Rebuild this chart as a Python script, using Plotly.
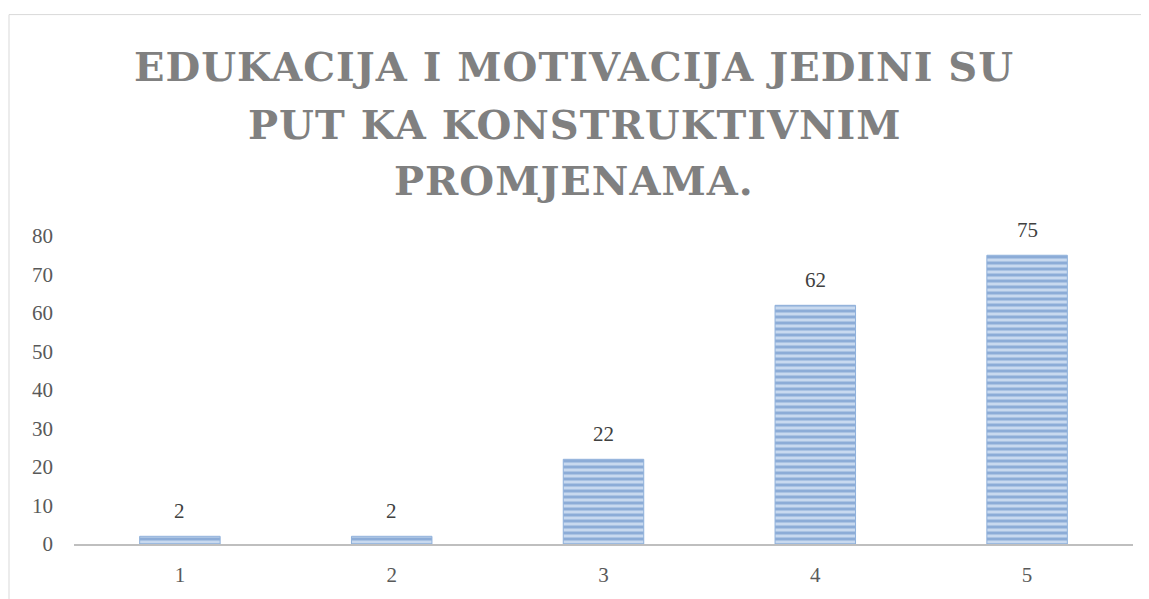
import plotly.graph_objects as go

categories = ["1", "2", "3", "4", "5"]
values = [2, 2, 22, 62, 75]
y_ticks = [0, 10, 20, 30, 40, 50, 60, 70, 80]
title_lines = ["EDUKACIJA I MOTIVACIJA JEDINI SU", "PUT KA KONSTRUKTIVNIM", "PROMJENAMA."]

OFF = 8  # page body offset
W, H = 1149 - OFF, 599 - OFF
L, R, T, B = 74 - OFF, W - (1133 - OFF), 236 - OFF, H - (549 - OFF)
pw = W - L - R
ph = H - T - B


def py(screen_y):
    return (H - B - (screen_y - OFF)) / ph


def px(screen_x):
    return (screen_x - OFF - L) / pw


serif = "Liberation Serif, DejaVu Serif, serif"

fig = go.Figure()
fig.add_trace(go.Bar(
    x=categories, y=values,
    width=0.38,
    marker=dict(
        color="#B7CDEA",
        line=dict(color="#8FB0DA", width=1),
        pattern=dict(shape="-", fgcolor="#4F7FC0", bgcolor="#C8D9EF", size=6, solidity=0.5),
    ),
    hoverinfo="skip",
))

for i, v in enumerate(values):
    fig.add_annotation(x=i, y=v, xref="x", yref="y", text=str(v), showarrow=False,
                       yanchor="bottom", yshift=11,
                       font=dict(family=serif, size=21, color="#404040"))

for line, sy in zip(title_lines, [64, 123, 180]):
    fig.add_annotation(x=px(574), y=py(sy), xref="paper", yref="paper",
                       text='<span style="letter-spacing:1px">' + line + '</span>',
                       showarrow=False, xanchor="center", yanchor="middle",
                       font=dict(family="DejaVu Serif, serif", size=40, color="#808080", weight="bold"))

# outer frame
fig.add_shape(type="rect", xref="paper", yref="paper",
              x0=px(9), x1=px(1170),
              y0=py(640), y1=py(11),
              line=dict(color="#D9D9D9", width=1), fillcolor="rgba(0,0,0,0)", layer="below")

fig.update_layout(
    width=W, height=H,
    margin=dict(l=L, r=R, t=T, b=B),
    paper_bgcolor="white", plot_bgcolor="white",
    showlegend=False,
    xaxis=dict(
        type="category", range=[-0.5, 4.5],
        showline=True, linecolor="#BFBFBF", linewidth=2,
        ticks="", showgrid=False, zeroline=False,
        tickfont=dict(family=serif, size=21, color="#595959"),
        ticklabelstandoff=11,
    ),
    yaxis=dict(
        range=[0, 80], tickvals=y_ticks, showgrid=False, zeroline=False, showline=False,
        ticks="", tickfont=dict(family=serif, size=21, color="#595959"),
        ticklabelstandoff=20,
    ),
)

fig.write_html("out.html")
